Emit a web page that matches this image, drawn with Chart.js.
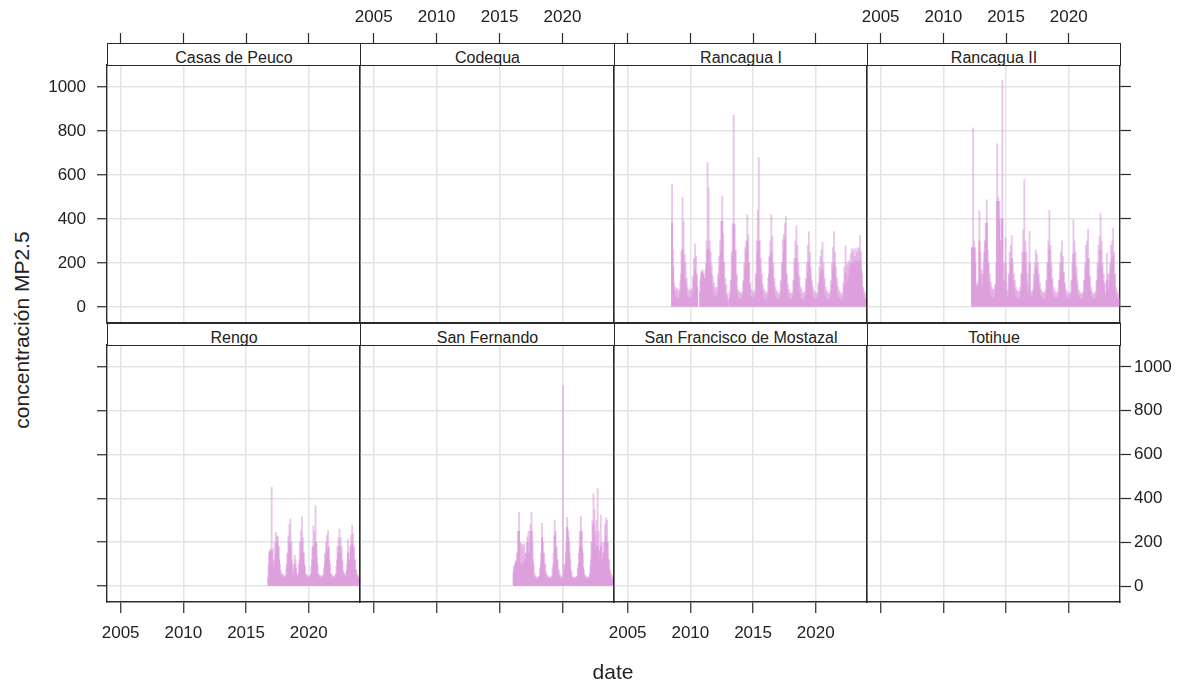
<!DOCTYPE html>
<html>
<head>
<meta charset="utf-8">
<script src="https://cdn.jsdelivr.net/npm/chart.js@4.4.1/dist/chart.umd.min.js"></script>
<style>
  body { margin: 0; background: #fff; }
  #wrap { position: relative; width: 1191px; height: 683px; overflow: hidden; font-family: "Liberation Sans", Arial, sans-serif; color: #222; }
  canvas { position: absolute; }
  .strip { position: absolute; box-sizing: border-box; border: 1px solid #2a2a2a; background: #fff; text-align: center; font-size: 16px; line-height: 27px; overflow: hidden; z-index: 2; white-space: nowrap; }
  .axis-title { position: absolute; font-size: 21px; white-space: nowrap; transform: translate(-50%, -50%); }
</style>
</head>
<body>
<div id="wrap"></div>
<script>
// panels, in lattice order (top row then bottom row)
const stations = ['Casas de Peuco', 'Codequa', 'Rancagua I', 'Rancagua II',
                  'Rengo', 'San Fernando', 'San Francisco de Mostazal', 'Totihue'];
const xTicks = [2005, 2010, 2015, 2020];
const yTicks = [0, 200, 400, 600, 800, 1000];

// monthly values, Jan..Dec per row
// "peak" = highest day in the month (thin light spikes), "level" = the solid body
const rancaguaIFirstYear = 2008;
const rancaguaIPeak = [
  null, null, null, null, null, null, 556, 260, 110,  90,  80,  85,
    70,   80,  120,  250,  497,  389, 240, 200, 130,  90,  70,  80,
    75,   85,  140,  220,  287,  230, 150, null, null, 120, 160, 170,
   150,  130,  170,  300,  657,  542, 300, 250, 190, 140, 110,  90,
    80,   90,  150,  230,  300,  389, 502, 330, 200, 130, 100,  60,
  null,   70,  120,  250,  380,  872, 374, 260, 150,  80,  70,  65,
    60,   70,  120,  200,  270,  300, 419, 330, 200, 110,  80,  70,
    65,   75,  150,  300,  440,  680, 300, 220, 150, 100,  80,  70,
    60,   70,  130,  229,  300,  419, 320, 200, 130,  90,  75,  65,
    60,   70,  120,  200,  305,  330, 380, 411, 150, 100,  80,  65,
    60,   70,  120,  220,  300,  369, 280, 200, 140,  90,  80,  65,
    60,   70,  130,  200,  280,  343, 250, 180, 120,  90,  75,  65,
    60,   65,  110,  180,  230,  260, 293, 200, 130,  90,  75,  65,
    60,   70,  120,  200,  270,  343, 250, 180, 130,  90,  75,  65,
    55,   65,  110,  180,  278,  200, 190, 210, 200, 240, 264, 250,
   264,  230,  264,  250,  270,  264, 325, 250, 150,  90,  70,  60
];
const rancaguaILevel = [
  null, null, null, null, null, null, 381, 180,  70,  50,  40,  40,
    35,   40,   60,  150,  260,  200, 130, 110,  60,  45,  35,  40,
    35,   40,   60,  120,  170,  140,  90, null, null,  70, 150, 160,
   150,  120,  130,  200,  260,  260, 200, 150, 100,  70,  50,  45,
    40,   45,   60,  130,  180,  250, 389, 200, 100,  60,  50,  30,
  null,   35,   50,  120,  230,  374, 250, 140,  60,  45,  35,  32,
    32,   35,   50,  110,  170,  250, 300, 200, 100,  50,  40,  35,
    32,   35,   60,  150,  250,  300, 180, 120,  70,  45,  35,  32,
    32,   35,   50,  150,  229,  250, 170, 110,  60,  40,  35,  32,
    32,   35,   50,  110,  200,  250, 305, 150,  70,  45,  35,  32,
    32,   35,   50,  120,  200,  220, 150, 110,  60,  40,  35,  32,
    32,   35,   50,  110,  160,  200, 140, 100,  55,  40,  35,  32,
    32,   34,   45,  100,  140,  160, 170, 110,  60,  40,  35,  32,
    32,   35,   50,  100,  170,  200, 140, 100,  60,  40,  35,  32,
    30,   32,   45,   90,  150,  100, 110, 140, 170, 190, 200, 200,
   205,  200,  205,  200,  205,  210, 210, 170,  90,  55,  40,  35
];

const rancaguaIIFirstYear = 2012;
const rancaguaIIPeak = [
  null, null, null,  270,  814,  300, 270, 110,  100, 120, 439, 250,
   169,  150,  200,  300,  380,  487, 260, 200,  150, 110,  90,  80,
    80,  100,  200,  742,  500,  480, 300, 400, 1030, 200, 120, 314,
   110,   75,  150,  250,  280,  325, 200, 150,  120,  90,  75,  70,
    70,   90,  150,  250,  350,  579, 300, 250,  150, 100, 343,  70,
    70,   80,  150,  200,  260,  240, 200, 150,  110,  80,  70,  65,
    65,   75,  120,  200,  300,  439, 280, 200,  130,  90,  75,  65,
    60,   70,  120,  200,  250,  301, 230, 160,  110,  80,  70,  60,
    60,   70,  120,  200,  396,  300, 250, 180,  120,  80,  70,  60,
    60,   70,  120,  200,  280,  300, 354, 220,  140,  90,  70,  60,
    60,   70,  120,  200,  280,  320, 424, 300,  200, 150, 110,  70,
   245,  150,  150,  200,  280,  300, 358, 250,  150,  90,  70,  60
];
const rancaguaIILevel = [
  null, null, null,  269,  269,  260, 200,  90,   80, 100, 300, 150,
   100,   80,  150,  250,  300,  383, 200, 120,   70,  50,  40,  40,
    40,   50,  100,  480,  480,  400, 250, 300,  400, 120, 100, 200,
    45,   40,   70,  150,  200,  220, 120,  80,   55,  45,  38,  35,
    35,   45,   70,  150,  200,  250, 200, 120,   70,  50, 200,  50,
    38,   45,   70,  120,  180,  170, 130,  90,   55,  45,  38,  35,
    35,   40,   60,  120,  200,  260, 180, 120,   60,  45,  38,  35,
    35,   40,   60,  120,  160,  200, 150, 100,   55,  45,  38,  35,
    35,   40,   60,  120,  240,  200, 150, 100,   55,  45,  38,  35,
    35,   40,   60,  120,  170,  200, 220, 130,   70,  50,  38,  35,
    35,   40,   60,  120,  170,  200, 260, 180,  120, 100,  55,  40,
   120,   80,   70,  120,  170,  220, 230, 150,   70,  50,  38,  35
];

const rengoFirstYear = 2016;
const rengoPeak = [
  null, null, null, null, null, null, null, null, null, 100, 160, 170,
   451,  170,  120,  200,  245,  230,  225,  180,  100,  70,  55,  55,
    45,   50,   80,  150,  230,  280,  306,  200,  100,  65, 140, 120,
    55,   55,  100,  200,  250,  316,  220,  150,   90,  55,  50,  45,
    45,   50,   90,  180,  275,  250,  366,  200,  100,  55,  50,  45,
    45,   50,   80,  150,  200,  230,  253,  180,  100,  55,  50,  45,
    45,   50,   90,  180,  220,  260,  220,  180,  110,  65,  55,  50,
   100,  215,  120,  180,  230,  278,  240,  180,  120,  75,  55,  45
];
const rengoLevel = [
  null, null, null, null, null, null, null, null, null,  40, 150, 160,
   160,  100,   60,  100,  150,  200,  180,  120,   55,  45,  40,  35,
    35,   35,   45,  100,  150,  200,  180,  120,   55,  40, 100,  80,
    40,   40,   55,  120,  160,  200,  150,  100,   50,  40,  38,  35,
    35,   38,   55,  120,  180,  170,  200,  130,   55,  40,  38,  35,
    35,   38,   50,  100,  140,  160,  170,  120,   55,  40,  38,  35,
    35,   38,   55,  120,  150,  180,  150,  120,   65,  45,  40,  38,
    70,  150,   80,  120,  160,  190,  170,  120,   75,  50,  40,  35
];

const sanFernandoFirstYear = 2016;
const sanFernandoPeak = [
  null,   90,  100,  117,  150,  250,  335,  200,  194, 190, 180, 194,
   150,  120,  223,  250,  200,  280,  335,  200,  100,  55,  45,  40,
    40,   45,   80,  150,  286,  200,  150,  100,   65,  50,  45,  40,
    40,   45,   80,  150,  301,  250,  180,  120,   75,  55,  45,  40,
   915,  100,  100,  200,  313,  250,  200,  120,   65,  45,  40,  40,
    40,   45,   80,  150,  250,  320,  250,  150,   75,  50,  45,  40,
    40,   45,   90,  200,  300,  421,  350,  250,  300, 446, 250, 150,
   323,  200,  150,  200,  280,  311,  300,  200,  120,  75,  55,  45
];
const sanFernandoLevel = [
  null,   60,   90,  110,  100,  150,  250,  100,  100, 100, 100, 110,
   120,  150,  200,  150,  150,  250,  250,  120,   45,  35,  32,  32,
    32,   35,   45,  100,  220,  150,  100,   55,   40,  35,  32,  32,
    32,   35,   45,  100,  230,  170,  120,   65,   45,  35,  32,  32,
    35,   55,   75,  150,  268,  220,  150,   75,   40,  35,  32,  32,
    32,   35,   45,  100,  180,  250,  170,   85,   45,  35,  32,  32,
    32,   35,   55,  120,  200,  280,  220,  160,  180, 180, 160, 120,
   180,  120,  100,  150,  200,  230,  200,  120,   65,  45,  35,  32
];

const stationData = {
  'Rancagua I':   { first: rancaguaIFirstYear, peak: rancaguaIPeak, level: rancaguaILevel },
  'Rancagua II':  { first: rancaguaIIFirstYear, peak: rancaguaIIPeak, level: rancaguaIILevel },
  'Rengo':        { first: rengoFirstYear, peak: rengoPeak, level: rengoLevel },
  'San Fernando': { first: sanFernandoFirstYear, peak: sanFernandoPeak, level: sanFernandoLevel }
};

// layout of the lattice
const M = 70;                         // canvas margin around each panel
const colLeft = [107, 360, 614, 867];
const colRight = [360, 614, 867, 1120];
const stripTop = [43, 323];
const rowBottom = [323, 602];
const STRIP_H = 22;
const X_MIN = 2003.91, X_MAX = 2024.09;
const Y_MIN = -73, Y_MAX = 1100;
const FRAME = '#2a2a2a';
const GRID = '#e4e4e4';
const PLUM = 'rgb(221,160,221)';
const PLUM_LIGHT = 'rgba(221,160,221,0.6)';

Chart.defaults.font.family = '"Liberation Sans", Arial, sans-serif';
Chart.defaults.font.size = 17;
Chart.defaults.color = '#222';

const wrap = document.getElementById('wrap');

function monthly(first, values) {
  return values.map((v, i) => ({ x: first + i / 12 + 1 / 24, y: v }));
}

stations.forEach((name, k) => {
  const r = Math.floor(k / 4), c = k % 4;
  const dataTop = stripTop[r] + STRIP_H;
  const w = colRight[c] - colLeft[c];
  const h = rowBottom[r] - dataTop;

  const canvas = document.createElement('canvas');
  canvas.width = w + 2 * M;
  canvas.height = h + 2 * M;
  canvas.style.left = (colLeft[c] - M) + 'px';
  canvas.style.top = (dataTop - M) + 'px';
  wrap.appendChild(canvas);

  const strip = document.createElement('div');
  strip.className = 'strip';
  strip.style.left = colLeft[c] + 'px';
  strip.style.top = stripTop[r] + 'px';
  strip.style.width = (w + 1) + 'px';
  strip.style.height = (STRIP_H + 1) + 'px';
  strip.textContent = name;
  wrap.appendChild(strip);

  const datasets = [];
  const d = stationData[name];
  if (d) {
    datasets.push({
      data: monthly(d.first, d.level), backgroundColor: PLUM,
      barThickness: 1.3, grouped: false, order: 1, xAxisID: 'x', yAxisID: 'y'
    });
    datasets.push({
      data: monthly(d.first, d.peak), backgroundColor: PLUM_LIGHT,
      barThickness: 1.2, grouped: false, order: 2, xAxisID: 'x', yAxisID: 'y'
    });
  }

  const setX = s => { s.ticks = xTicks.map(v => ({ value: v })); };
  const setY = s => { s.ticks = yTicks.map(v => ({ value: v })); };
  const border = { display: true, color: FRAME, width: 1.4 };

  new Chart(canvas, {
    type: 'bar',
    data: { datasets },
    options: {
      responsive: false,
      animation: false,
      events: [],
      layout: { padding: 0 },
      plugins: { legend: { display: false }, tooltip: { enabled: false } },
      scales: {
        x: {
          type: 'linear', position: 'bottom', min: X_MIN, max: X_MAX, offset: false,
          afterBuildTicks: setX, afterFit: s => { s.height = M; },
          grid: { offset: false, color: GRID, lineWidth: 1.5, drawTicks: r === 1, tickLength: 11, tickColor: FRAME, tickWidth: 1.2 },
          border,
          ticks: { display: r === 1 && c % 2 === 0, padding: 10, maxRotation: 0, autoSkip: false, callback: v => String(v) }
        },
        xTop: {
          type: 'linear', position: 'top', min: X_MIN, max: X_MAX, offset: false,
          afterBuildTicks: setX, afterFit: s => { s.height = M; },
          grid: { offset: false, drawOnChartArea: false, drawTicks: r === 0, tickLength: STRIP_H + 10, tickColor: FRAME, tickWidth: 1.2 },
          border,
          ticks: { display: r === 0 && c % 2 === 1, padding: 5, maxRotation: 0, autoSkip: false, callback: v => String(v) }
        },
        y: {
          type: 'linear', position: 'left', min: Y_MIN, max: Y_MAX,
          afterBuildTicks: setY, afterFit: s => { s.width = M; },
          grid: { color: GRID, lineWidth: 1.5, drawTicks: c === 0, tickLength: 10, tickColor: FRAME, tickWidth: 1.2 },
          border,
          ticks: { display: c === 0 && r === 0, padding: 11, callback: v => String(v) }
        },
        yRight: {
          type: 'linear', position: 'right', min: Y_MIN, max: Y_MAX,
          afterBuildTicks: setY, afterFit: s => { s.width = M; },
          grid: { drawOnChartArea: false, drawTicks: c === 3, tickLength: 11, tickColor: FRAME, tickWidth: 1.2 },
          border,
          ticks: { display: c === 3 && r === 1, padding: 3, callback: v => String(v) }
        }
      }
    }
  });
});

const yTitle = document.createElement('div');
yTitle.className = 'axis-title';
yTitle.style.left = '22px';
yTitle.style.top = '330px';
yTitle.style.transform = 'translate(-50%, -50%) rotate(-90deg)';
yTitle.textContent = 'concentración MP2.5';
wrap.appendChild(yTitle);

const xTitle = document.createElement('div');
xTitle.className = 'axis-title';
xTitle.style.left = '613px';
xTitle.style.top = '672px';
xTitle.textContent = 'date';
wrap.appendChild(xTitle);
</script>
</body>
</html>
